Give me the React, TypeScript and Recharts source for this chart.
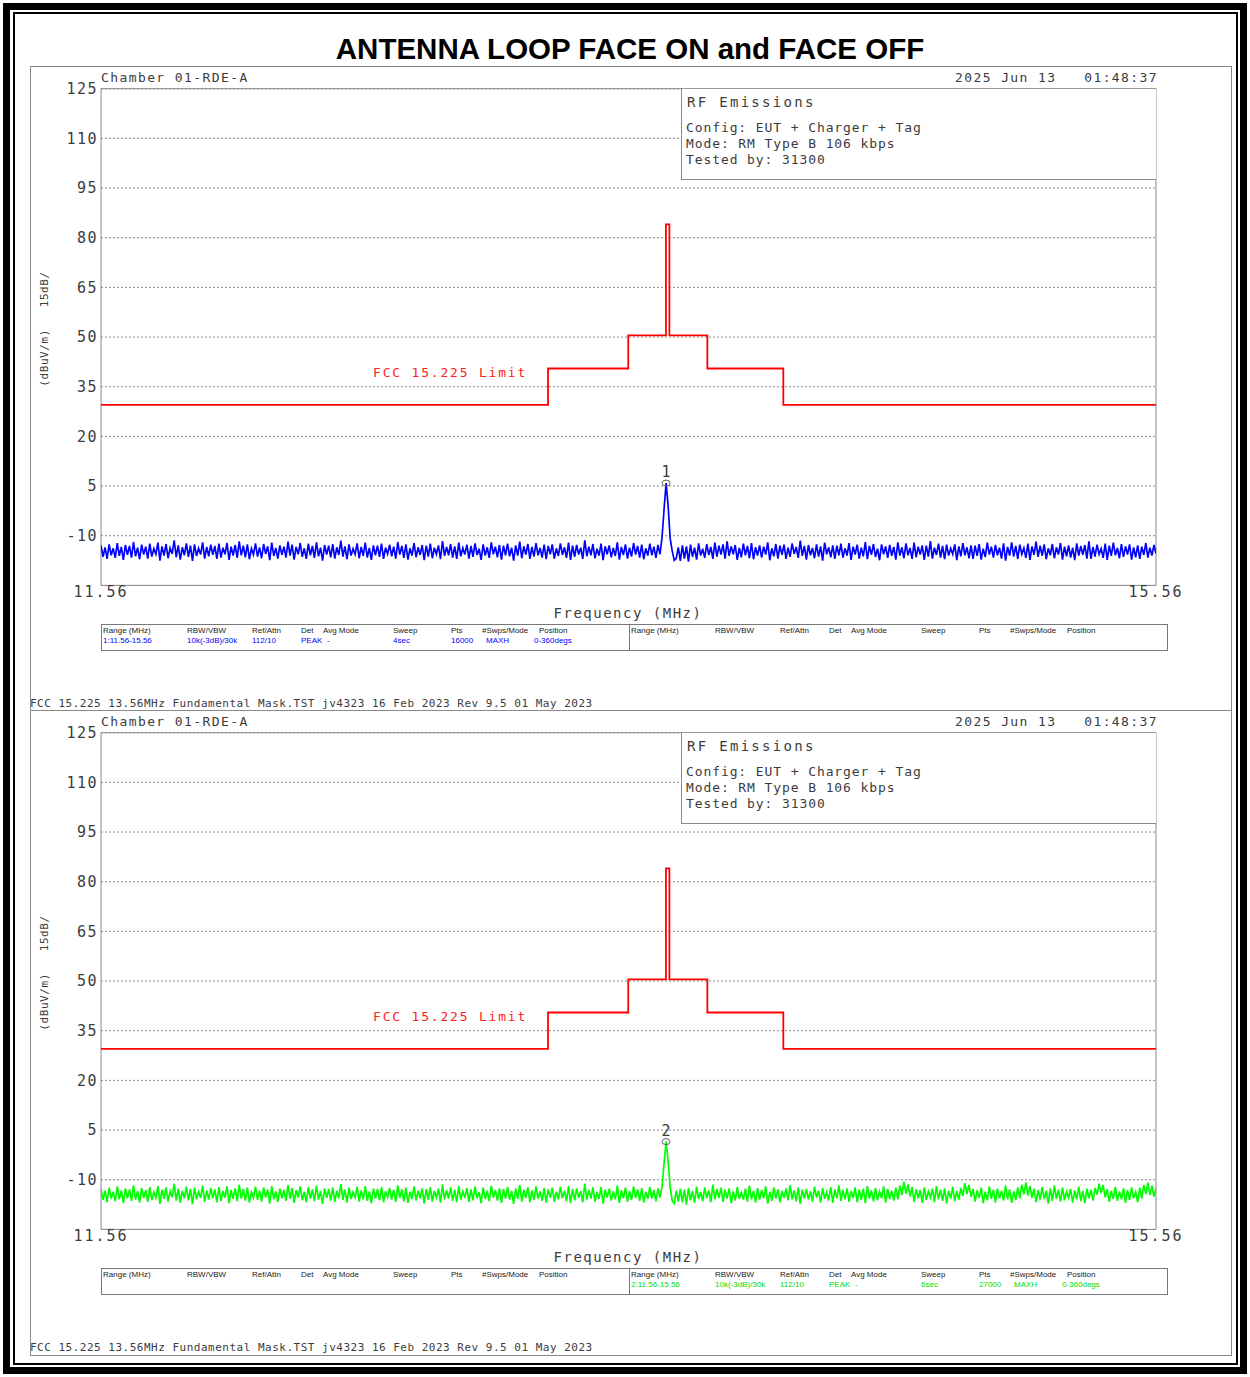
import React from 'react'
import { LineChart, Line, XAxis, YAxis, CartesianGrid, ReferenceArea, ReferenceDot } from 'recharts'

// sweep span, MHz
const F_START = 11.56
const F_STOP = 15.56

const X_TICKS = [11.56, 15.56]
const Y_TICKS = [-10, 5, 20, 35, 50, 65, 80, 95, 110, 125]

// FCC 15.225 mask as it is drawn on the plot (duplicate freqs = vertical steps)
const LIMIT_FREQS = [11.56, 13.255, 13.255, 13.559, 13.559, 13.702, 13.702, 13.715, 13.715, 13.859, 13.859, 14.147, 14.147, 15.56]
const LIMIT_LEVELS = [29.5, 29.5, 40.5, 40.5, 50.5, 50.5, 84, 84, 50.5, 50.5, 40.5, 40.5, 29.5, 29.5]

// trace 1 (face on), dBuV/m, evenly spaced sweep points across the span
const TRACE1_LEVELS = [
  -12.9, -16.4, -13.5, -17.0, -12.6, -15.9, -13.8, -16.7, -12.2, -16.1,
  -13.4, -17.3, -12.8, -15.8, -13.1, -16.6, -11.9, -16.2, -13.6, -17.1,
  -12.7, -15.7, -13.3, -16.9, -12.4, -16.3, -13.9, -15.6, -12.1, -17.5,
  -13.2, -16.0, -12.5, -16.8, -13.7, -15.5, -11.4, -16.5, -12.9, -17.2,
  -13.5, -15.9, -12.3, -16.4, -13.0, -17.6, -12.6, -16.1, -13.8, -15.7,
  -12.0, -16.9, -13.4, -16.2, -12.7, -15.8, -13.1, -17.0, -12.4, -16.6,
  -13.6, -15.6, -12.2, -17.3, -13.3, -16.0, -12.8, -16.7, -11.7, -15.9,
  -13.0, -16.5, -12.6, -17.1, -13.9, -15.7, -12.3, -16.3, -13.5, -16.8,
  -12.5, -15.5, -13.2, -17.4, -12.1, -16.1, -13.7, -16.9, -12.9, -15.8,
  -13.3, -16.6, -11.8, -16.0, -12.7, -17.2, -13.4, -15.6, -12.2, -16.4,
  -13.8, -17.0, -12.4, -15.9, -13.1, -16.7, -12.0, -16.2, -13.6, -17.5,
  -12.8, -15.7, -13.0, -16.5, -12.5, -16.9, -13.5, -15.8, -11.5, -16.3,
  -13.2, -17.1, -12.6, -16.0, -13.9, -15.6, -12.3, -16.8, -13.4, -16.1,
  -12.1, -16.6, -13.7, -17.3, -12.9, -15.9, -13.0, -16.4, -12.4, -17.0,
  -13.6, -15.5, -12.7, -16.2, -13.3, -16.9, -11.9, -15.7, -13.1, -16.7,
  -12.6, -17.2, -13.8, -16.0, -12.2, -16.5, -13.5, -15.8, -12.8, -17.4,
  -13.0, -16.3, -12.4, -16.8, -13.6, -15.6, -12.9, -17.1, -11.6, -16.1,
  -13.4, -15.9, -12.5, -16.6, -13.2, -17.0, -12.1, -16.2, -13.7, -15.7,
  -12.7, -16.9, -13.1, -16.4, -12.3, -15.8, -13.9, -17.3, -12.6, -16.0,
  -13.5, -16.7, -12.0, -15.6, -13.3, -16.5, -12.8, -17.2, -13.0, -15.9,
  -12.4, -16.2, -13.6, -17.5, -12.9, -16.0, -11.8, -16.8, -13.2, -15.7,
  -12.5, -17.0, -13.4, -16.3, -12.2, -15.9, -13.7, -16.6, -12.7, -17.1,
  -13.1, -15.6, -12.6, -16.9, -13.8, -16.1, -12.3, -15.8, -13.5, -16.7,
  -12.1, -17.3, -13.0, -16.4, -12.8, -15.7, -13.6, -17.0, -11.4, -16.2,
  -13.3, -15.9, -12.5, -16.8, -13.9, -16.0, -12.4, -17.4, -13.2, -15.6,
  -12.9, -16.5, -13.7, -16.1, -12.0, -17.2, -13.4, -15.8, -12.6, -16.9,
  -13.6, -16.3, -12.2, -15.7, -13.1, -16.6, -12.7, -17.1, -13.8, -16.0,
  -12.4, -15.9, -13.3, -16.7, -12.8, -15.6, -10.5, -2.0, 5.9, -1.0,
  -10.8, -14.6, -17.4, -16.8, -13.5, -17.6, -12.9, -16.9, -13.2, -17.8,
  -12.7, -16.4, -13.6, -17.2, -12.3, -16.0, -13.9, -16.7, -12.5, -15.8,
  -13.4, -17.0, -12.1, -16.3, -13.0, -15.7, -12.6, -16.9, -11.7, -16.1,
  -13.2, -15.6, -12.8, -17.3, -13.7, -16.5, -12.4, -15.9, -13.1, -16.8,
  -12.2, -17.1, -13.5, -16.0, -12.9, -16.6, -13.3, -15.7, -12.0, -17.4,
  -13.8, -16.2, -12.5, -16.9, -13.0, -15.8, -12.7, -17.0, -13.6, -16.4,
  -12.3, -15.5, -13.4, -16.7, -11.5, -16.1, -13.1, -17.2, -12.8, -15.9,
  -13.7, -16.8, -12.6, -16.3, -13.2, -17.5, -12.1, -15.6, -13.5, -16.5,
  -12.9, -17.0, -13.0, -15.9, -12.4, -16.6, -13.8, -16.0, -12.2, -17.3,
  -13.3, -15.7, -12.7, -16.9, -13.6, -16.2, -11.9, -17.1, -13.1, -15.8,
  -12.5, -16.4, -13.9, -17.4, -12.6, -15.6, -13.2, -16.7, -12.8, -16.1,
  -13.4, -17.2, -12.0, -16.0, -13.5, -16.8, -12.3, -15.9, -13.7, -17.0,
  -12.1, -16.5, -13.3, -15.7, -12.9, -17.3, -13.0, -16.3, -11.6, -16.9,
  -13.6, -15.8, -12.4, -16.6, -13.1, -17.1, -12.7, -16.0, -13.8, -15.6,
  -12.6, -17.4, -13.2, -16.2, -12.2, -15.9, -13.5, -16.8, -12.9, -17.0,
  -13.0, -16.1, -12.5, -17.2, -13.9, -16.4, -12.1, -15.7, -13.3, -16.6,
  -12.8, -15.9, -13.6, -16.9, -12.3, -17.5, -13.4, -16.0, -12.0, -16.3,
  -13.1, -17.0, -12.7, -15.6, -13.7, -16.7, -12.4, -17.3, -13.2, -15.8,
  -11.8, -16.4, -13.0, -16.1, -12.6, -17.1, -13.8, -15.9, -12.5, -16.8,
  -13.5, -15.7, -12.2, -17.2, -13.3, -16.2, -12.9, -16.6, -13.6, -17.4,
  -12.3, -16.0, -13.1, -15.8, -12.8, -16.9, -11.7, -17.0, -13.4, -16.3,
  -12.7, -15.6, -13.9, -16.7, -12.4, -17.3, -13.0, -16.1, -12.1, -15.9,
  -13.7, -16.8, -12.5, -16.4, -13.2, -15.7, -12.6, -17.2, -13.5, -16.5,
  -12.9, -17.0, -13.3, -15.8, -12.2, -16.6, -13.6, -16.0, -12.8, -15.4,
]

// trace 2 (face off)
const TRACE2_LEVELS = [
  -12.7, -16.1, -13.3, -16.8, -12.4, -15.7, -13.6, -16.5, -12.0, -15.9,
  -13.2, -17.1, -12.6, -15.6, -12.9, -16.4, -11.7, -16.0, -13.4, -16.9,
  -12.5, -15.5, -13.1, -16.7, -12.2, -16.1, -13.7, -15.4, -11.9, -17.3,
  -13.0, -15.8, -12.3, -16.6, -13.5, -15.3, -11.2, -16.3, -12.7, -17.0,
  -13.3, -15.7, -12.1, -16.2, -12.8, -17.4, -12.4, -15.9, -13.6, -15.5,
  -11.8, -16.7, -13.2, -16.0, -12.5, -15.6, -12.9, -16.8, -12.2, -16.4,
  -13.4, -15.4, -12.0, -17.1, -13.1, -15.8, -12.6, -16.5, -11.5, -15.7,
  -12.8, -16.3, -12.4, -16.9, -13.7, -15.5, -12.1, -16.1, -13.3, -16.6,
  -12.3, -15.3, -13.0, -17.2, -11.9, -15.9, -13.5, -16.7, -12.7, -15.6,
  -13.1, -16.4, -11.6, -15.8, -12.5, -17.0, -13.2, -15.4, -12.0, -16.2,
  -13.6, -16.8, -12.2, -15.7, -12.9, -16.5, -11.8, -16.0, -13.4, -17.3,
  -12.6, -15.5, -12.8, -16.3, -12.3, -16.7, -13.3, -15.6, -11.3, -16.1,
  -13.0, -16.9, -12.4, -15.8, -13.7, -15.4, -12.1, -16.6, -13.2, -15.9,
  -11.9, -16.4, -13.5, -17.1, -12.7, -15.7, -12.8, -16.2, -12.2, -16.8,
  -13.4, -15.3, -12.5, -16.0, -13.1, -16.7, -11.7, -15.5, -12.9, -16.5,
  -12.4, -17.0, -13.6, -15.8, -12.0, -16.3, -13.3, -15.6, -12.6, -17.2,
  -12.8, -16.1, -12.2, -16.6, -13.4, -15.4, -12.7, -16.9, -11.4, -15.9,
  -13.2, -15.7, -12.3, -16.4, -13.0, -16.8, -11.9, -16.0, -13.5, -15.5,
  -12.5, -16.7, -12.9, -16.2, -12.1, -15.6, -13.7, -17.1, -12.4, -15.8,
  -13.3, -16.5, -11.8, -15.4, -13.1, -16.3, -12.6, -17.0, -12.8, -15.7,
  -12.2, -16.0, -13.4, -17.3, -12.7, -15.8, -11.6, -16.6, -13.0, -15.5,
  -12.3, -16.8, -13.2, -16.1, -12.0, -15.7, -13.5, -16.4, -12.5, -16.9,
  -12.9, -15.4, -12.4, -16.7, -13.6, -15.9, -12.1, -15.6, -13.3, -16.5,
  -11.9, -17.1, -12.8, -16.2, -12.6, -15.5, -13.4, -16.8, -11.2, -16.0,
  -13.1, -15.7, -12.3, -16.6, -13.7, -15.8, -12.2, -17.2, -13.0, -15.4,
  -12.7, -16.3, -13.5, -15.9, -11.8, -17.0, -13.2, -15.6, -12.4, -16.7,
  -13.4, -16.1, -12.0, -15.5, -12.9, -16.4, -12.5, -16.9, -13.6, -15.8,
  -12.2, -15.7, -13.1, -16.5, -12.6, -15.4, -12.0, -5.0, 1.5, -4.5,
  -12.4, -16.3, -17.2, -13.3, -16.6, -12.7, -16.8, -13.0, -17.5, -12.5,
  -16.2, -13.4, -17.0, -12.1, -15.8, -13.7, -16.5, -12.3, -15.6, -13.2,
  -16.8, -11.5, -15.9, -12.8, -15.5, -12.4, -16.7, -13.0, -15.7, -12.6,
  -17.1, -13.5, -16.3, -12.2, -15.8, -13.9, -16.0, -12.7, -16.6, -11.8,
  -15.9, -13.3, -16.9, -12.5, -16.1, -13.1, -15.6, -12.0, -17.2, -13.6,
  -16.4, -12.3, -15.7, -12.9, -16.8, -13.4, -15.5, -12.6, -16.2, -11.6,
  -15.9, -13.2, -16.5, -12.4, -17.3, -13.0, -15.7, -12.8, -16.0, -13.5,
  -16.6, -12.1, -15.4, -13.3, -16.9, -12.5, -15.8, -13.7, -16.3, -12.2,
  -17.0, -12.9, -15.6, -11.7, -16.4, -13.1, -15.9, -12.6, -16.7, -13.4,
  -15.5, -12.3, -16.8, -13.0, -16.1, -12.7, -17.1, -11.9, -15.7, -13.2,
  -16.5, -12.5, -16.2, -13.6, -15.6, -12.0, -16.9, -12.8, -15.8, -13.3,
  -16.3, -12.4, -15.9, -11.8, -14.6, -10.6, -14.2, -11.4, -15.0, -12.2,
  -16.7, -12.9, -15.6, -13.1, -17.0, -12.3, -16.1, -13.5, -15.4, -12.7,
  -16.8, -11.9, -15.9, -13.0, -16.4, -12.6, -17.2, -13.3, -15.7, -12.1,
  -16.5, -13.4, -16.0, -12.5, -14.9, -11.0, -14.3, -11.6, -15.2, -12.8,
  -16.6, -13.2, -15.5, -12.4, -17.1, -13.6, -16.2, -12.0, -15.8, -13.0,
  -16.9, -12.6, -15.7, -13.3, -16.3, -11.8, -15.9, -12.9, -17.0, -13.5,
  -16.1, -12.3, -15.6, -11.5, -14.4, -10.8, -14.8, -11.9, -15.5, -12.7,
  -16.8, -13.1, -16.0, -12.2, -15.7, -13.4, -17.2, -12.6, -16.4, -11.7,
  -15.8, -13.0, -16.6, -12.4, -16.2, -13.6, -15.5, -12.8, -16.9, -13.2,
  -15.9, -12.1, -16.5, -13.4, -17.1, -12.7, -15.6, -13.0, -16.3, -12.5,
  -14.5, -11.2, -14.0, -11.6, -15.3, -12.9, -16.7, -13.3, -15.8, -12.2,
  -16.4, -13.5, -15.9, -12.6, -17.0, -13.1, -16.1, -12.3, -15.6, -13.7,
  -16.8, -12.4, -15.7, -11.6, -14.3, -10.9, -14.6, -11.8, -15.1, -12.6,
]

const TABLE_HEADERS = ['Range (MHz)', 'RBW/VBW', 'Ref/Attn', 'Det', 'Avg Mode', 'Sweep', 'Pts', '#Swps/Mode', 'Position']
const TABLE1_VALUES = ['1:11.56-15.56', '10k(-3dB)/30k', '112/10', 'PEAK', '-', '4sec', '16000', 'MAXH', '0-360degs']
const TABLE2_VALUES = ['2:11.56-15.56', '10k(-3dB)/30k', '112/10', 'PEAK', '-', '6sec', '27000', 'MAXH', '0-360degs']

const MONO = '"DejaVu Sans Mono", monospace'
const INK = '#3c3c3c'
const HEAD_X = [1, 85, 150, 199, 221, 291, 349, 380, 437]
const VAL_X = [1, 85, 150, 199, 225, 291, 349, 384, 432]

function Txt({ x, y, size, spacing = 0, color = INK, align = 'left', children }: any) {
  const style: any = {
    position: 'absolute',
    top: y - size * 0.62,
    fontFamily: MONO,
    fontSize: size,
    lineHeight: `${size * 1.2}px`,
    letterSpacing: spacing,
    color,
    whiteSpace: 'pre',
  }
  if (align === 'left') style.left = x
  else if (align === 'right') style.right = 1250 - x
  else { style.left = x - 300; style.width = 600; style.textAlign = 'center' }
  return <div style={style}>{children}</div>
}

function SettingsTable({ values, side, color }: any) {
  const half = (start: number, vals: string[] | null) => (
    <>
      {TABLE_HEADERS.map((h, i) => (
        <div key={'h' + i} style={{ position: 'absolute', left: start + HEAD_X[i], top: 1, fontSize: 8, color: '#222' }}>{h}</div>
      ))}
      {vals && vals.map((v, i) => (
        <div key={'v' + i} style={{ position: 'absolute', left: start + VAL_X[i], top: 11, fontSize: 8, color }}>{v}</div>
      ))}
    </>
  )
  return (
    <div style={{ position: 'absolute', left: 101, top: 624, width: 1067, height: 27, border: '1px solid #777', boxSizing: 'border-box', fontFamily: 'Arial, "Liberation Sans", sans-serif' }}>
      <div style={{ position: 'absolute', left: 527, top: 0, width: 1, height: 25, background: '#777' }} />
      {half(0, side === 'left' ? values : null)}
      {half(528, side === 'right' ? values : null)}
    </div>
  )
}

function Panel({ top, levels, color, marker, tableValues, tableSide, tableColor }: any) {
  // sweep points are spread evenly over the span
  const trace = levels.map((v: number, i: number) => ({
    f: F_START + (i * (F_STOP - F_START)) / (levels.length - 1),
    v,
  }))
  const limit = LIMIT_FREQS.map((f, i) => ({ f, v: LIMIT_LEVELS[i] }))
  const peak = trace.reduce((a: any, b: any) => (b.v > a.v ? b : a))

  return (
    <div style={{ position: 'absolute', left: 0, top, width: 1250, height: 644 }}>
      <LineChart width={1250} height={644} margin={{ top: 88.7, right: 94, left: 41, bottom: 28.6 }}>
        <CartesianGrid vertical={false} stroke="#8a8a8a" strokeDasharray="2 2" />
        <XAxis
          dataKey="f"
          type="number"
          domain={[F_START, F_STOP]}
          ticks={X_TICKS}
          allowDataOverflow
          height={30}
          axisLine={false}
          tickLine={false}
          tickSize={0}
          tickMargin={1}
          tickFormatter={(v: number) => v.toFixed(2)}
          tick={{ fill: INK, fontSize: 15, fontFamily: MONO, letterSpacing: 2 }}
        />
        <YAxis
          type="number"
          domain={[-25, 125]}
          ticks={Y_TICKS}
          allowDataOverflow
          width={60}
          axisLine={false}
          tickLine={false}
          tickSize={0}
          tickMargin={3}
          tick={{ fill: INK, fontSize: 15, fontFamily: MONO, letterSpacing: 1.5 }}
        />
        <ReferenceArea x1={F_START} x2={F_STOP} y1={-25} y2={125} fill="none" stroke="#8a8a8a" strokeWidth={1} />
        <Line data={limit} dataKey="v" type="linear" stroke="#ff0000" strokeWidth={1.8} dot={false} isAnimationActive={false} />
        <Line data={trace} dataKey="v" type="linear" stroke={color} strokeWidth={1.7} dot={false} isAnimationActive={false} />
        <ReferenceDot
          x={peak.f}
          y={peak.v}
          r={3}
          shape={(p: any) => <ellipse cx={p.cx} cy={p.cy} rx={4} ry={3} fill="none" stroke="#666" strokeWidth={1} />}
          label={{ value: marker, position: 'top', offset: 3, fill: INK, fontSize: 15, fontFamily: MONO }}
        />
      </LineChart>

      <Txt x={101} y={78} size={13} spacing={1.4}>Chamber 01-RDE-A</Txt>
      <Txt x={1158} y={78} size={13} spacing={1.4} align="right">{'2025 Jun 13   01:48:37'}</Txt>

      <div style={{ position: 'absolute', left: 681, top: 89, width: 475, height: 91, background: '#fff', borderLeft: '1px solid #8a8a8a', borderBottom: '1px solid #8a8a8a', boxSizing: 'border-box' }} />
      <Txt x={687} y={103} size={14} spacing={2.3}>RF Emissions</Txt>
      <Txt x={686} y={128} size={13} spacing={0.9}>Config: EUT + Charger + Tag</Txt>
      <Txt x={686} y={144} size={13} spacing={0.9}>Mode: RM Type B 106 kbps</Txt>
      <Txt x={686} y={160} size={13} spacing={0.9}>Tested by: 31300</Txt>

      <Txt x={373} y={373} size={13} spacing={1.8} color="#ff2020">FCC 15.225 Limit</Txt>

      <div style={{ position: 'absolute', left: -25, top: 322, width: 140, height: 14, transform: 'rotate(-90deg)', textAlign: 'center', fontFamily: MONO, fontSize: 11, letterSpacing: 0.6, color: INK, whiteSpace: 'pre', lineHeight: '14px' }}>
        {'(dBuV/m)   15dB/'}
      </div>

      <Txt x={628} y={614} size={14} spacing={1.5} align="center">Frequency (MHz)</Txt>
      <SettingsTable values={tableValues} side={tableSide} color={tableColor} />
      <Txt x={30} y={704} size={11} spacing={0.5}>FCC 15.225 13.56MHz Fundamental Mask.TST jv4323 16 Feb 2023 Rev 9.5 01 May 2023</Txt>
    </div>
  )
}

export default function App() {
  return (
    <div style={{ position: 'absolute', left: 0, top: 0, width: 1250, height: 1377, background: '#fff', overflow: 'hidden' }}>
      <div style={{ position: 'absolute', left: 3, top: 3, width: 1244, height: 1371, border: '7px solid #000', boxSizing: 'border-box' }} />
      <div style={{ position: 'absolute', left: 13, top: 12, width: 1225, height: 1353, border: '2px solid #000', boxSizing: 'border-box' }} />
      <div style={{ position: 'absolute', left: 30, top: 66, width: 1202, height: 1290, border: '1px solid #8a8a8a', boxSizing: 'border-box' }} />
      <div style={{ position: 'absolute', left: 30, top: 710, width: 1202, height: 1, background: '#8a8a8a' }} />

      <div style={{ position: 'absolute', left: 0, top: 31, width: 1260, textAlign: 'center', fontFamily: 'Arial, "Liberation Sans", sans-serif', fontWeight: 'bold', fontSize: 29.5, lineHeight: '36px', color: '#000' }}>
        ANTENNA LOOP FACE ON and FACE OFF
      </div>

      <Panel top={0} levels={TRACE1_LEVELS} color="#0000ff" marker="1" tableValues={TABLE1_VALUES} tableSide="left" tableColor="#0000ff" />
      <Panel top={644} levels={TRACE2_LEVELS} color="#00ff00" marker="2" tableValues={TABLE2_VALUES} tableSide="right" tableColor="#00dd00" />
    </div>
  )
}
